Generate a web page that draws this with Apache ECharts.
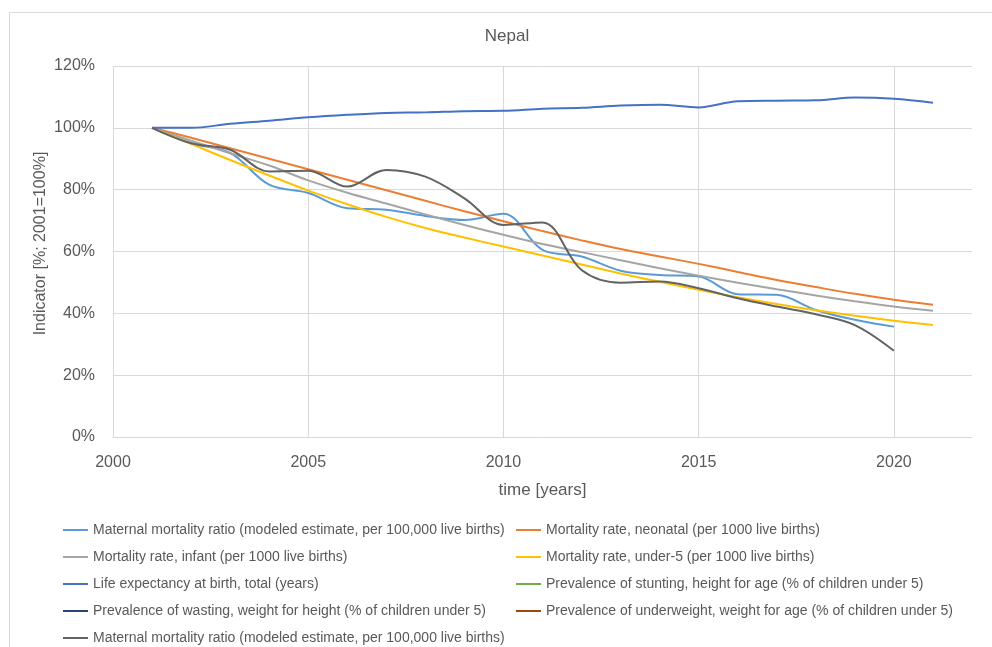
<!DOCTYPE html>
<html>
<head>
<meta charset="utf-8">
<script src="https://cdn.jsdelivr.net/npm/echarts@6/dist/echarts.min.js"></script>
<style>
html,body{margin:0;padding:0;background:#fff;overflow:hidden;}
#frame{position:absolute;left:9px;top:12px;width:990px;height:650px;border:1px solid #D9D9D9;box-sizing:border-box;}
#chart{position:absolute;left:0;top:0;width:992px;height:647px;}
</style>
</head>
<body>
<div id="frame"></div>
<div id="chart"></div>
<script>
const years = [2001,2002,2003,2004,2005,2006,2007,2008,2009,2010,2011,2012,2013,2014,2015,2016,2017,2018,2019,2020,2021];
const xTicks = [2000,2005,2010,2015,2020];
const yTicks = [0,20,40,60,80,100,120];

const maternalMortality = [100,95,91.9,81.6,78.9,74,73.5,71.5,70.2,72.2,60.5,58.4,53.8,52.4,51.9,46.2,46,41.1,37.9,35.7];
const neonatal = [100,96.8,93.4,90,86.6,83.2,79.8,76.4,73,69.8,66.6,63.6,60.8,58.4,56,53.4,50.8,48.5,46.3,44.4,42.8];
const infant = [100,95.8,91.8,87.8,83,79,75.5,72,68.6,65.4,62.4,59.8,57.2,54.6,52.2,49.9,47.8,45.8,43.9,42.2,40.8];
const under5 = [100,94.8,89.6,84.6,79.7,75.3,71.2,67.6,64.5,61.6,58.7,55.8,52.9,50.2,47.6,45.2,43,41,39.2,37.6,36.2];
const lifeExpectancy = [100,100,101.3,102.3,103.4,104.2,104.8,105,105.4,105.5,106.2,106.5,107.2,107.5,106.6,108.6,108.8,108.9,109.8,109.4,108.1];
const stunting = [];
const wasting = [];
const underweight = [];
const maternalMortality2 = [100,95,92.9,85.9,86.1,81,86.4,84.2,77.2,68.6,69.4,54,49.9,50.3,48.1,44.9,42.2,39.7,36.2,27.9];

const names = [
  "Maternal mortality ratio (modeled estimate, per 100,000 live births)",
  "Mortality rate, neonatal (per 1000 live births)",
  "Mortality rate, infant (per 1000 live births)",
  "Mortality rate, under-5 (per 1000 live births)",
  "Life expectancy at birth, total (years)",
  "Prevalence of stunting, height for age (% of children under 5)",
  "Prevalence of wasting, weight for height (% of children under 5)",
  "Prevalence of underweight, weight for age (% of children under 5)",
  "Maternal mortality ratio (modeled estimate, per 100,000 live births) "
];
const colors = ['#5B9BD5','#ED7D31','#A5A5A5','#FFC000','#4472C4','#70AD47','#264478','#9E480E','#636363'];
const values = [maternalMortality, neonatal, infant, under5, lifeExpectancy, stunting, wasting, underweight, maternalMortality2];

const series = values.map((arr, i) => ({
  name: names[i],
  type: 'line',
  data: arr.map((v, k) => [years[k], v]),
  smooth: 0.35,
  showSymbol: false,
  symbol: 'none',
  color: colors[i],
  lineStyle: {width: 2, color: colors[i]},
  z: i === 8 ? 3 : 2
}));

const font = 'Liberation Sans, Arial, sans-serif';
const legendCommon = {
  orient: 'vertical',
  icon: 'rect',
  itemWidth: 25,
  itemHeight: 2,
  itemGap: 11,
  top: 522,
  padding: 0,
  textStyle: {fontFamily: font, fontSize: 14, color: '#595959', lineHeight: 16},
  selectedMode: false
};

const chart = echarts.init(document.getElementById('chart'), null, {renderer: 'canvas'});
chart.setOption({
  animation: false,
  backgroundColor: 'transparent',
  title: {
    text: 'Nepal', left: 507, textAlign: 'center', top: 28, padding: 0,
    textStyle: {fontFamily: font, fontSize: 17, fontWeight: 'normal', color: '#595959'}
  },
  legend: [
    Object.assign({}, legendCommon, {left: 63, data: [names[0], names[2], names[4], names[6], names[8]]}),
    Object.assign({}, legendCommon, {left: 516, data: [names[1], names[3], names[5], names[7]]})
  ],
  grid: {left: 113, right: 20, top: 66, bottom: 210, containLabel: false},
  xAxis: {
    type: 'value', min: 2000, max: 2022, interval: 5,
    name: 'time [years]', nameLocation: 'middle', nameGap: 45,
    nameTextStyle: {fontFamily: font, fontSize: 17, color: '#595959'},
    axisLine: {show: true, lineStyle: {color: '#D9D9D9'}},
    axisTick: {show: false},
    axisLabel: {
      fontFamily: font, fontSize: 16, color: '#595959', margin: 18,
      formatter: v => (xTicks.indexOf(v) >= 0 ? String(v) : '')
    },
    splitLine: {show: true, showMaxLine: false, lineStyle: {color: '#D9D9D9'}}
  },
  yAxis: {
    type: 'value', min: 0, max: 120, interval: 20,
    name: 'Indicator [%; 2001=100%]', nameLocation: 'middle', nameGap: 64,
    nameMoveOverlap: false,
    nameTextStyle: {fontFamily: font, fontSize: 16, color: '#595959', padding: [0, 0, 0, 16]},
    axisLine: {show: false},
    axisTick: {show: false},
    axisLabel: {
      fontFamily: font, fontSize: 16, color: '#595959', margin: 18,
      formatter: v => (yTicks.indexOf(v) >= 0 ? v + '%' : '')
    },
    splitLine: {show: true, lineStyle: {color: '#D9D9D9'}}
  },
  series: series
});
</script>
</body>
</html>
